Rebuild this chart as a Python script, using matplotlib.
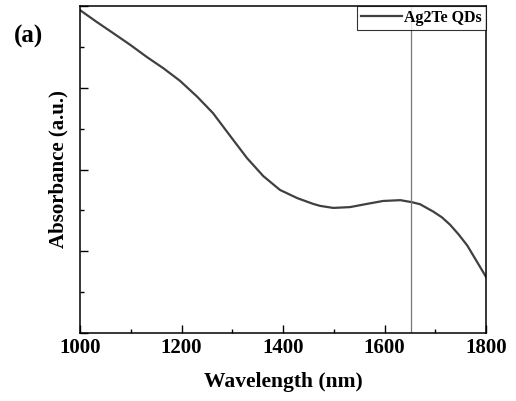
import matplotlib
matplotlib.use("Agg")
import matplotlib.pyplot as plt
from matplotlib.ticker import MultipleLocator, NullFormatter

wavelength = [1000, 1033, 1065, 1099, 1132, 1164, 1197, 1231, 1262, 1296,
              1329, 1361, 1394, 1428, 1459, 1473, 1499, 1532, 1566, 1597,
              1631, 1654, 1670, 1696, 1713, 1729, 1746, 1763, 1800]
absorbance = [7.90, 7.61, 7.34, 7.05, 6.75, 6.48, 6.17, 5.78, 5.38, 4.82,
              4.28, 3.84, 3.50, 3.30, 3.16, 3.11, 3.06, 3.08, 3.16, 3.23,
              3.25, 3.20, 3.15, 2.97, 2.83, 2.65, 2.41, 2.14, 1.37]
peak_wavelength = 1652
series_label = "Ag2Te QDs"
x_ticks = [1000, 1200, 1400, 1600, 1800]

plt.rcParams['font.family'] = ['Liberation Serif', 'DejaVu Serif']
plt.rcParams['font.weight'] = 'bold'

fig = plt.figure(figsize=(5.16, 4.01), dpi=100)
ax = fig.add_axes([0.155, 0.1696, 0.787, 0.8154])

ax.plot(wavelength, absorbance, color='#404040', lw=1.6, label=series_label)
ax.axvline(peak_wavelength, color='#777777', lw=0.9)

ax.set_xlim(1000, 1800)
ax.set_ylim(0, 8)
ax.set_xticks(x_ticks)
ax.xaxis.set_minor_locator(MultipleLocator(100))
ax.yaxis.set_major_locator(MultipleLocator(2))
ax.yaxis.set_minor_locator(MultipleLocator(1))
ax.yaxis.set_major_formatter(NullFormatter())
ax.tick_params(which='both', direction='in', top=False, right=False, width=1.0)
ax.tick_params(which='major', length=6, labelsize=15)
ax.tick_params(which='minor', length=3)
for lbl in ax.get_xticklabels():
    lbl.set_fontweight('bold')
for s in ax.spines.values():
    s.set_linewidth(1.1)

ax.set_xlabel("Wavelength (nm)", fontsize=15.5, fontweight='bold', labelpad=10)
ax.set_ylabel("Absorbance (a.u.)", fontsize=15, fontweight='bold', labelpad=5)

leg = ax.legend(loc='upper right', frameon=True, fancybox=False,
                borderaxespad=0, handlelength=2.6, handletextpad=0.15,
                borderpad=0.25, prop={'weight': 'bold', 'size': 11.5})
leg.get_frame().set_edgecolor('black')
leg.get_frame().set_linewidth(0.8)

fig.text(0.027, 0.91, "(a)", fontsize=18, fontweight='bold', ha='left', va='center')

fig.savefig("out.png", dpi=100)
